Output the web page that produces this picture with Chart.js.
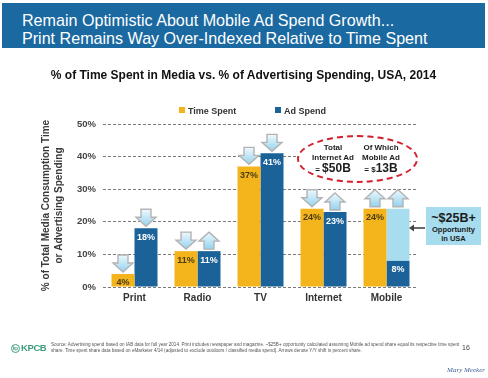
<!DOCTYPE html>
<html>
<head>
<meta charset="utf-8">
<script src="https://cdn.jsdelivr.net/npm/chart.js@4"></script>
<style>
  html,body{margin:0;padding:0;background:#fff;}
  body{width:488px;height:378px;position:relative;overflow:hidden;font-family:"Liberation Sans",Arial,sans-serif;}
  #c{position:absolute;left:0;top:0;}
  .abs{position:absolute;}
  #banner{left:2px;top:3px;width:483px;height:45px;background:#1b69a1;color:#fff;font-size:16.1px;line-height:18px;box-sizing:border-box;padding:8px 0 0 20px;white-space:nowrap;}
  #ctitle{left:0;width:487px;top:68px;text-align:center;font-weight:bold;font-size:12px;color:#111;white-space:nowrap;}
  .leg{top:105px;font-weight:bold;font-size:9px;color:#333;white-space:nowrap;line-height:12px;}
  .leg i{display:inline-block;width:6px;height:6px;margin-right:3px;vertical-align:1px;}
  #ellipse{left:297px;top:135px;width:121px;height:48px;box-sizing:border-box;border:2.5px dashed #d2202f;border-radius:50%;background:#fff;}
  .etxt{font-weight:bold;color:#1c1c1c;text-align:center;font-size:8px;line-height:10px;white-space:nowrap;}
  .big{font-size:12px;}
  .small{font-size:8px;}
  #opp{left:426px;top:207px;width:55px;height:38px;background:#a7dcee;text-align:center;font-weight:bold;color:#1b1b1b;}
  #footer-src{left:51px;top:342px;width:410px;font-size:4.6px;line-height:6px;color:#555;}
  #logo{left:11px;top:342px;color:#3d9e7c;font-size:9.5px;font-weight:bold;letter-spacing:-0.4px;white-space:nowrap;}
  #logo span{display:inline-block;width:7px;height:7px;border:1px solid #3d9e7c;border-radius:50%;font-size:4.5px;line-height:7px;text-align:center;vertical-align:1px;margin-right:1px;letter-spacing:0;}
  #page{left:462px;top:344px;font-size:7px;color:#444;}
  #mm{left:440px;top:366px;width:45px;text-align:right;font-family:"Liberation Serif","DejaVu Serif",serif;font-style:italic;font-size:7px;color:#3f5f99;}
</style>
</head>
<body>
<canvas id="c" width="488" height="378"></canvas>
<div id="banner" class="abs">Remain Optimistic About Mobile Ad Spend Growth...<br>Print Remains Way Over-Indexed Relative to Time Spent</div>
<div id="ctitle" class="abs">% of Time Spent in Media vs. % of Advertising Spending, USA, 2014</div>
<div id="leg1" class="abs leg"></div>
<div id="leg2" class="abs leg"></div>
<div id="ellipse" class="abs"></div>
<div class="abs etxt" style="left:307px;top:143px;width:52px;">Total<br>Internet Ad<br><span class="small">= </span><span class="big">$50B</span></div>
<div class="abs etxt" style="left:356px;top:143px;width:50px;">Of Which<br>Mobile Ad<br><span class="small">= $</span><span class="big">13B</span></div>
<div id="opp" class="abs"><div style="font-size:12.5px;line-height:14px;margin-top:4px;">~$25B+</div><div style="font-size:7.5px;line-height:9px;">Opportunity<br>in USA</div></div>
<svg class="abs" style="left:408px;top:223px" width="18" height="10"><line x1="4" y1="5" x2="17" y2="5" stroke="#444" stroke-width="1.6"/><polygon points="1,5 6,1.5 6,8.5" fill="#444"/></svg>
<div id="logo" class="abs"><span>kp</span>KPCB</div>
<div id="footer-src" class="abs">Source: Advertising spend based on IAB data for full year 2014. Print includes newspaper and magazine. ~$25B+ opportunity calculated assuming Mobile ad spend share equal its respective time spent share. Time spent share data based on eMarketer 4/14 (adjusted to exclude outdoors / classified media spend). Arrows denote Y/Y shift in percent share.</div>
<div id="page" class="abs">16</div>
<div id="mm" class="abs">Mary Meeker</div>
<script>
// ---- data ----
const categories = ['Print', 'Radio', 'TV', 'Internet', 'Mobile'];
const timeSpent = [4, 11, 37, 24, 24];
const adSpend = [18, 11, 41, 23, 8];
const mobileOpportunity = [0, 0, 0, 0, 16];
const timeArrows = ['down', 'down', 'down', 'down', 'up'];
const adArrows = ['down', 'up', 'down', 'up', 'up'];
const yTicks = [0, 10, 20, 30, 40, 50];
const seriesNames = ['Time Spent', 'Ad Spend'];

const GOLD = '#f3b41c';
const BLUE = '#1a6298';
const LIGHT = '#a8ddf0';
const FONT = '"Liberation Sans", Arial, sans-serif';

function drawArrow(ctx, cx, baseY, dir) {
  const w = 20, sw = 10, h = 17, hh = 9;
  const top = baseY - 2 - h, bot = baseY - 2;
  ctx.save();
  ctx.beginPath();
  if (dir === 'down') {
    ctx.moveTo(cx - sw / 2, top);
    ctx.lineTo(cx + sw / 2, top);
    ctx.lineTo(cx + sw / 2, bot - hh);
    ctx.lineTo(cx + w / 2, bot - hh);
    ctx.lineTo(cx, bot);
    ctx.lineTo(cx - w / 2, bot - hh);
    ctx.lineTo(cx - sw / 2, bot - hh);
  } else {
    ctx.moveTo(cx, top);
    ctx.lineTo(cx + w / 2, top + hh);
    ctx.lineTo(cx + sw / 2, top + hh);
    ctx.lineTo(cx + sw / 2, bot);
    ctx.lineTo(cx - sw / 2, bot);
    ctx.lineTo(cx - sw / 2, top + hh);
    ctx.lineTo(cx - w / 2, top + hh);
  }
  ctx.closePath();
  const g = ctx.createLinearGradient(0, top, 0, bot);
  g.addColorStop(0, '#eef9fe');
  g.addColorStop(1, '#94d2ee');
  ctx.fillStyle = g;
  ctx.fill();
  ctx.strokeStyle = '#b3b3b3';
  ctx.lineWidth = 1.4;
  ctx.stroke();
  ctx.restore();
}

const decorPlugin = {
  id: 'decor',
  afterDatasetsDraw(chart) {
    const ctx = chart.ctx;
    const tMeta = chart.getDatasetMeta(0), aMeta = chart.getDatasetMeta(1), oMeta = chart.getDatasetMeta(2);
    ctx.save();
    ctx.font = 'bold 9px ' + FONT;
    ctx.textAlign = 'center';
    ctx.textBaseline = 'middle';
    categories.forEach((c, i) => {
      const tb = tMeta.data[i], ab = aMeta.data[i], ob = oMeta.data[i];
      ctx.fillStyle = '#4a3c14';
      ctx.fillText(timeSpent[i] + '%', tb.x, tb.y + 9);
      ctx.fillStyle = '#ffffff';
      ctx.fillText(adSpend[i] + '%', ab.x, ab.y + 9);
      drawArrow(ctx, tb.x, tb.y, timeArrows[i]);
      const adTop = mobileOpportunity[i] > 0 ? ob.y : ab.y;
      drawArrow(ctx, ab.x, adTop, adArrows[i]);
    });
    ctx.restore();
  }
};

const chart = new Chart(document.getElementById('c'), {
  type: 'bar',
  data: {
    labels: categories,
    datasets: [
      { label: seriesNames[0], data: timeSpent, backgroundColor: GOLD, stack: 'time' },
      { label: seriesNames[1], data: adSpend, backgroundColor: BLUE, stack: 'ad' },
      { label: 'Opportunity', data: mobileOpportunity, backgroundColor: LIGHT, stack: 'ad' }
    ]
  },
  options: {
    responsive: false,
    animation: false,
    devicePixelRatio: 1,
    layout: { padding: { top: 124, left: 35, right: 70, bottom: 63 } },
    datasets: { bar: { categoryPercentage: 0.73, barPercentage: 1, borderWidth: 0 } },
    plugins: { legend: { display: false }, title: { display: false }, tooltip: { enabled: false } },
    scales: {
      x: {
        stacked: true,
        grid: { display: false, drawTicks: false, tickLength: 0 },
        border: { display: false },
        ticks: { color: '#333', font: { family: FONT, size: 10, weight: 'bold' }, padding: 5 },
        afterFit(s) { s.height = 28; }
      },
      y: {
        stacked: true,
        min: 0, max: 50,
        afterBuildTicks(s) { s.ticks = yTicks.map(v => ({ value: v })); },
        ticks: { callback: v => v + '%', color: '#444', font: { family: FONT, size: 9.5, weight: 'bold' }, padding: 7 },
        grid: { color: '#7a7a7a', lineWidth: 1, drawTicks: false },
        border: { display: false, dash: [3, 2] },
        title: {
          display: true,
          text: ['% of Total Media Consumption Time', 'or Advertising Spending'],
          color: '#3a3a3a',
          font: { family: FONT, size: 10, weight: 'bold', lineHeight: 1.3 },
          padding: { top: 5, bottom: 0 }
        },
        afterFit(s) { s.width = 68; }
      }
    }
  },
  plugins: [decorPlugin]
});

// legend from chart datasets
const l1 = document.getElementById('leg1'), l2 = document.getElementById('leg2');
l1.innerHTML = '<i style="background:' + chart.data.datasets[0].backgroundColor + '"></i>' + chart.data.datasets[0].label;
l2.innerHTML = '<i style="background:' + chart.data.datasets[1].backgroundColor + '"></i>' + chart.data.datasets[1].label;
l1.style.left = '179px';
l2.style.left = '275px';
</script>
</body>
</html>
